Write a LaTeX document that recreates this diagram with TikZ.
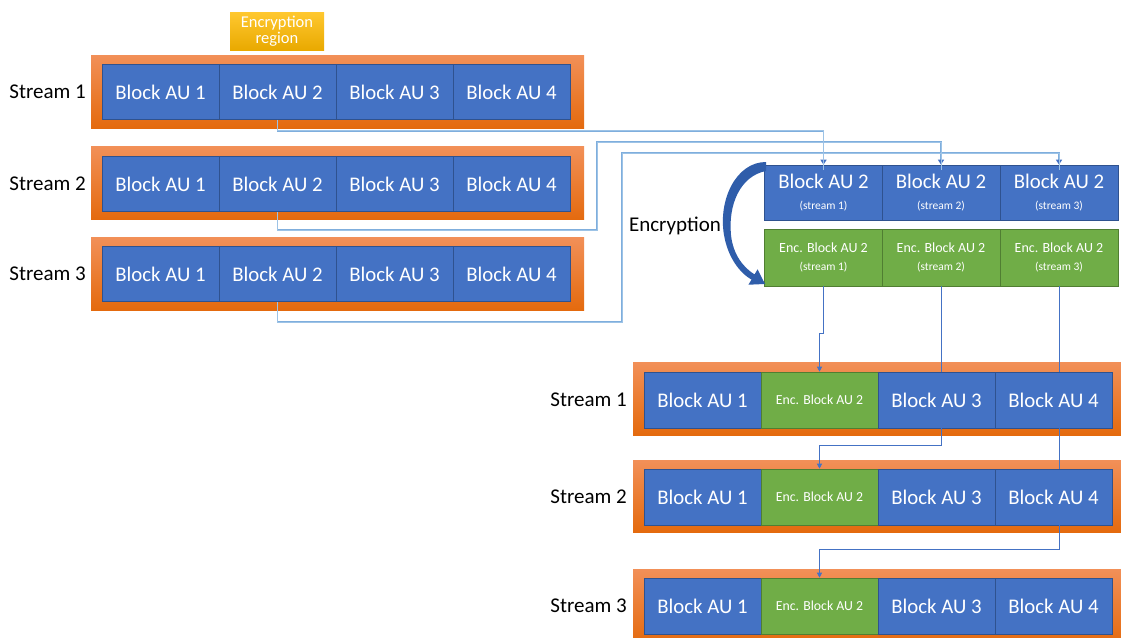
\documentclass[tikz,border=0pt]{standalone}
\usepackage{fontspec}
\setmainfont{Carlito}
\usetikzlibrary{arrows.meta,calc}

\definecolor{aublue}{HTML}{4472C4}
\definecolor{aublueline}{HTML}{2F528F}
\definecolor{encgreen}{HTML}{70AD47}
\definecolor{encgreenline}{HTML}{507E32}
\definecolor{frametop}{HTML}{F29058}
\definecolor{framebot}{HTML}{E46A0E}
\definecolor{goldtop}{HTML}{FFC830}
\definecolor{goldbot}{HTML}{E9A900}
\definecolor{feedblue}{HTML}{9DC3E6}
\definecolor{feededge}{HTML}{7FAEDD}
\definecolor{linkblue}{HTML}{4472C4}
\definecolor{bendblue}{HTML}{2F5DAA}

\tikzset{
  frame/.style={rectangle, inner sep=0pt, draw=none,
    top color=frametop, bottom color=framebot},
  au/.style={rectangle, inner sep=0pt, fill=aublue, draw=aublueline, line width=0.6pt,
    minimum width=117pt, text=white, font=\fontsize{20.8}{22}\selectfont},
  encau/.style={au, fill=encgreen, draw=encgreenline},
  streamlabel/.style={anchor=east, inner sep=0pt, font=\fontsize{21}{22}\selectfont},
  feed/.style={draw=feededge, line width=1.5pt,
    -{Triangle[width=6pt,length=5pt,color=linkblue]}},
  feedline/.style={draw=feedblue, line width=0.7pt},
  link/.style={draw=linkblue, line width=0.9pt},
  linkarrow/.style={link, -{Triangle[width=5pt,length=5pt]}},
}

\begin{document}
\begin{tikzpicture}[x=1pt, y=-1pt]
\clip (0,0) rectangle (1121,637);
\fill[white] (0,0) rectangle (1121,637);

% ---------- source streams ----------
\node[frame, minimum width=493pt, minimum height=73pt] (F1) at (337.5,91.5) {};
\node[frame, minimum width=493pt, minimum height=73pt] (F2) at (337.5,183) {};
\node[frame, minimum width=493pt, minimum height=73pt] (F3) at (337.5,273.5) {};

\foreach \r/\y in {1/92,2/184,3/274}{
  \node[au, minimum height=55pt] (L\r b1) at (160.5,\y) {Block AU 1};
  \node[au, minimum height=55pt] (L\r b2) at (277.5,\y) {Block AU 2};
  \node[au, minimum height=55pt] (L\r b3) at (394.5,\y) {Block AU 3};
  \node[au, minimum height=55pt] (L\r b4) at (511.5,\y) {Block AU 4};
  \node[streamlabel] (LS\r) at (86,\y) {Stream \r};
}

\node[rectangle, inner sep=0pt, top color=goldtop, bottom color=goldbot,
      minimum width=94pt, minimum height=38pt, text=white, align=center,
      font=\fontsize{16.5}{16.5}\selectfont] (region) at (277,31) {Encryption\\region};

% ---------- extracted AU 2 blocks and their encrypted versions ----------
\foreach \c/\x in {1/823.5,2/941,3/1059}{
  \node[au, minimum width=118pt, minimum height=55pt, align=center] (M\c) at (\x,192.5)
    {Block AU 2\\[-1pt]{\fontsize{11.5}{13}\selectfont (stream \c)}};
  \node[encau, minimum width=118pt, minimum height=57pt, align=center,
        font=\fontsize{14}{16}\selectfont] (G\c) at (\x,257.5)
    {Enc. Block AU 2\\[1.5pt]{\fontsize{11.5}{13}\selectfont (stream \c)}};
}

\node[inner sep=0pt, font=\fontsize{21}{22}\selectfont] (enclabel) at (675,226) {Encryption};

% curved encryption arrow
\fill[bendblue]
  (766,162) .. controls (736,162) and (718,200) .. (724,235)
  .. controls (728,258) and (740,273) .. (751.5,279.6)
  -- (748.4,284.7) -- (765,284) -- (757.6,269.3) -- (754.5,274.4)
  .. controls (744,268) and (733,255) .. (731,235)
  .. controls (728,205) and (740,176) .. (766,171) -- cycle;

% ---------- output streams ----------
\node[frame, minimum width=494pt, minimum height=73pt] (R1f) at (880,398.5) {};
\node[frame, minimum width=494pt, minimum height=72pt] (R2f) at (880,496) {};
\node[frame, minimum width=494pt, minimum height=75pt] (R3f) at (880,606.5) {};

\foreach \r/\y in {1/400,2/497,3/606}{
  \node[au, minimum height=56pt] (R\r b1) at (702.5,\y) {Block AU 1};
  \node[encau, minimum height=56pt, font=\fontsize{13.8}{15}\selectfont] (R\r b2) at (819.5,\y) {Enc. Block AU 2};
  \node[au, minimum height=56pt] (R\r b3) at (936.5,\y) {Block AU 3};
  \node[au, minimum height=56pt] (R\r b4) at (1053.5,\y) {Block AU 4};
  \node[streamlabel] (RS\r) at (627,\y) {Stream \r};
}

% ---------- feeds from the source streams ----------
\draw[feed] (L1b2.south) -- ++(0,11) -| (M1.north);
\draw[feed] (L2b2.south) |- (597,230) -- (597,142) -| (M2.north);
\draw[feed] (L3b2.south) |- (622,322) -- (622,153) -| (M3.north);
\draw[feedline] (L1b2.south) -- ++(0,11) -| ([yshift=-5pt]M1.north);
\draw[feedline] (L2b2.south) |- (597,230) -- (597,142) -| ([yshift=-5pt]M2.north);
\draw[feedline] (L3b2.south) |- (622,322) -- (622,153) -| ([yshift=-5pt]M3.north);

% ---------- encrypted blocks back into the streams ----------
\draw[linkarrow] (G1.south) -- ++(0,47) -| (R1b2.north);
\draw[link] (G2.south) -- (G2.south |- R1b3.north);
\draw[linkarrow] (G2.south |- R1b3.south) -- ++(0,17) -| (R2b2.north);
\draw[link] (G3.south) -- (G3.south |- R1b4.north);
\draw[link] (G3.south |- R1b4.south) -- (G3.south |- R2b4.north);
\draw[linkarrow] (G3.south |- R2b4.south) -- ++(0,24) -| (R3b2.north);
\end{tikzpicture}
\end{document}
